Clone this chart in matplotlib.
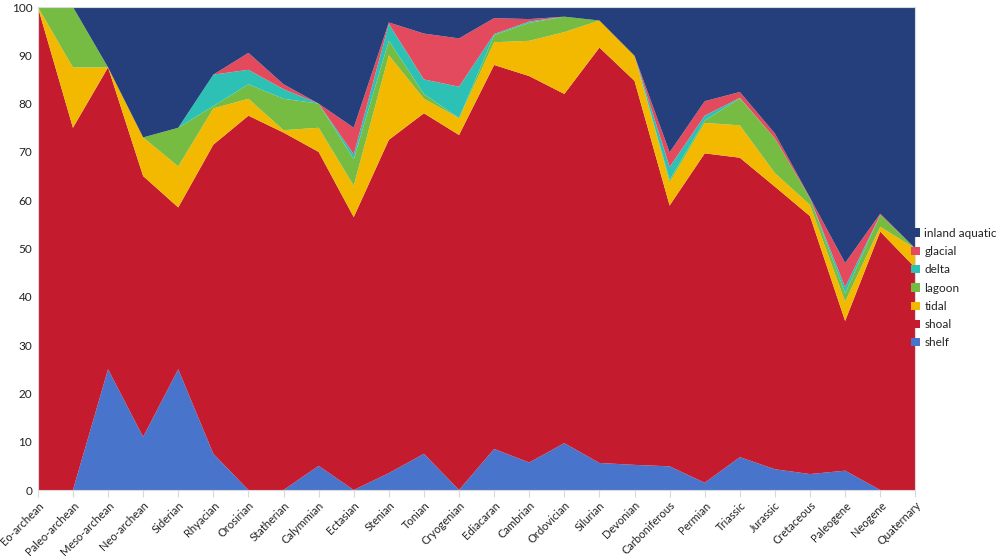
import matplotlib.pyplot as plt
import matplotlib.transforms as mtransforms
import numpy as np

plt.rcParams['font.family'] = ['Lato', 'DejaVu Sans']

periods = ['Eo-archean', 'Paleo-archean', 'Meso-archean', 'Neo-archean', 'Siderian',
           'Rhyacian', 'Orosirian', 'Statherian', 'Calymmian', 'Ectasian', 'Stenian',
           'Tonian', 'Cryogenian', 'Ediacaran', 'Cambrian', 'Ordovician', 'Silurian',
           'Devonian', 'Carboniferous', 'Permian', 'Triassic', 'Jurassic', 'Cretaceous',
           'Paleogene', 'Neogene', 'Quaternary']

# share (%) of each environment per period
shelf = [0, 0, 25, 11, 25, 7.5, 0, 0, 5, 0, 3.5, 7.5, 0, 8.5, 5.7, 9.7, 5.6,
         5.2, 4.9, 1.5, 6.8, 4.3, 3.3, 4, 0, 0]
shoal = [100, 75, 62.5, 54, 33.5, 64, 77.5, 74, 65, 56.5, 69, 70.5, 73.5, 79.5, 80,
         72.3, 86, 79.5, 54, 68.2, 62, 58.5, 53.4, 31, 53.5, 46]
tidal = [0, 12.5, 0, 8, 8.5, 7.5, 3.5, 0.5, 5, 6.5, 17.5, 3, 3.5, 4.7, 7.3, 12.8,
         5.6, 5.2, 4.8, 6.3, 6.7, 2.8, 2.3, 4, 1, 4]
lagoon = [0, 12.5, 0, 0, 8, 0.5, 3, 6.5, 5, 5.5, 3, 1, 0, 1.5, 3.7, 3.2, 0, 0,
          0.5, 0.5, 5.6, 7.2, 1.4, 1.7, 2.5, 0]
delta = [0, 0, 0, 0, 0, 6.5, 3, 2, 0, 1, 3.5, 3, 6.5, 0.2, 0.3, 0, 0, 0, 2.7, 1,
         0.1, 0, 0, 1.3, 0, 0]
glacial = [0, 0, 0, 0, 0, 0, 3.5, 1, 0, 5.5, 0.3, 9.5, 10, 3.3, 0.5, 0, 0, 0, 3,
           3, 1.2, 1, 0.1, 5, 0.2, 0]

shelf, shoal, tidal, lagoon, delta, glacial = map(np.array, (shelf, shoal, tidal, lagoon, delta, glacial))
inland = 100 - (shelf + shoal + tidal + lagoon + delta + glacial)

labels = ['shelf', 'shoal', 'tidal', 'lagoon', 'delta', 'glacial', 'inland aquatic']
colors = ['#4874CB', '#C41B2F', '#F3B800', '#76BC42', '#2DC1B5', '#E34A5E', '#243F7C']

fig = plt.figure(figsize=(9.96, 5.56), dpi=100)
ax = fig.add_axes([0.038, 0.1187, 0.881, 0.8687])

x = np.arange(len(periods))
ax.stackplot(x, shelf, shoal, tidal, lagoon, delta, glacial, inland,
             colors=colors, labels=labels, linewidth=0)

ax.set_xlim(0, len(periods) - 1)
ax.set_ylim(0, 100)
ax.set_yticks(np.arange(0, 101, 10))
ax.set_xticks(x)
ax.set_xticklabels(periods, rotation=45, ha='right', rotation_mode='anchor',
                   fontsize=8, color='#222222')
# nudge the rotated labels so their ends sit just right of each tick
shift = mtransforms.ScaledTranslation(6 / 72, 0, fig.dpi_scale_trans)
for lbl in ax.get_xticklabels():
    lbl.set_transform(lbl.get_transform() + shift)
ax.tick_params(axis='y', length=0, labelsize=8.5, labelcolor='#222222', pad=4)
ax.tick_params(axis='x', length=5, color='#D9D9D9', pad=2)
for s in ax.spines.values():
    s.set_color('#D9D9D9')
    s.set_linewidth(0.8)

handles, labs = ax.get_legend_handles_labels()
leg = fig.legend(handles[::-1], labs[::-1], loc='center left',
                 bbox_to_anchor=(0.915, 0.482), frameon=False, fontsize=8.5,
                 handlelength=0.7, handleheight=0.7, handletextpad=0.4,
                 labelspacing=0.62, borderaxespad=0, borderpad=0)
for t in leg.get_texts():
    t.set_color('#222222')

fig.savefig('out.png', dpi=100)
